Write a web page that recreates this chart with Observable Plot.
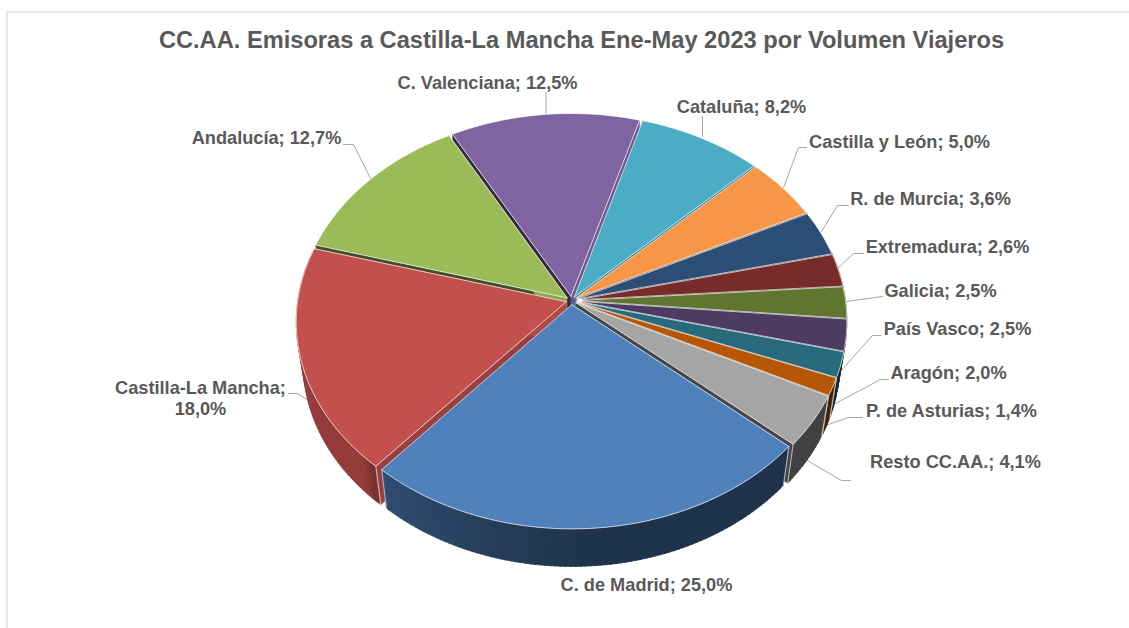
<!DOCTYPE html>
<html><head><meta charset="utf-8">
<script src="https://cdn.jsdelivr.net/npm/d3@7"></script>
<script src="https://cdn.jsdelivr.net/npm/@observablehq/plot@0.6"></script>
<style>html,body{margin:0;padding:0;background:#fff;overflow:hidden}svg{display:block}</style>
</head><body><div id="chart"></div>
<script>
const chartTitle = "CC.AA. Emisoras a Castilla-La Mancha Ene-May 2023 por Volumen Viajeros";
const regions = ["C. de Madrid","Castilla-La Mancha","Andalucía","C. Valenciana","Cataluña","Castilla y León","R. de Murcia","Extremadura","Galicia","País Vasco","Aragón","P. de Asturias","Resto CC.AA."];
const shares = [25.0,18.0,12.7,12.5,8.2,5.0,3.6,2.6,2.5,2.5,2.0,1.4,4.1];
const sliceColors = ["#4F81BD","#C4504E","#9BBB59","#8064A2","#4BACC6","#F79646","#2C4D75","#772C2A","#5F7530","#4D3B62","#276A7C","#B65708","#A5A5A5"];

// 3D pie view
const W=1129,H=628,cx=571,cy=300,R=268.5,Ry=201.5,persp=0.0976,depth=41,shrink=0.975,explode=5.5/268.5,startDeg=131;
function project(X,Y,low){
  const f=1/(1+persp*Y);
  let px=R*X*f, py=-Ry*Y*f;
  if(low){px*=shrink;py=py*0.985+depth;}
  return {x:cx+px,y:cy+py};
}
const total=d3.sum(shares);
let acc=startDeg*Math.PI/180;
const slices=regions.map((name,i)=>{
  const a0=acc,a1=acc+shares[i]/total*2*Math.PI;acc=a1;
  const m=(a0+a1)/2;
  return {name,i,share:shares[i],color:sliceColors[i],a0,a1,m,ox:explode*Math.sin(m),oy:explode*Math.cos(m)};
});
function rimAngles(s,step=1*Math.PI/180){
  const n=Math.max(2,Math.ceil((s.a1-s.a0)/step));
  return d3.range(n+1).map(k=>s.a0+(s.a1-s.a0)*k/n);
}
const pt=(s,a,r,low)=>project(s.ox+r*Math.sin(a),s.oy+r*Math.cos(a),low);
const toDeg=a=>((a*180/Math.PI)%360+360)%360;

const wallShade=d3.scaleLinear([175,222,225,270],[2.6,1.4,0.8,0.8]).clamp(true);
const cutShade=d3.scaleLinear([100,140,190],[0.3,0.8,2.4]).clamp(true);
function sliceMarks(s){
  const walls=[];
  const push=(id,c,ps)=>ps.forEach(p=>walls.push({id,c,x:p.x,y:p.y}));
  // cut faces, shaded by the direction they face
  [[s.a0,s.a0-Math.PI/2],[s.a1,s.a1+Math.PI/2]].forEach(([a,n],j)=>{
    push("c"+j,d3.rgb(s.color).darker(cutShade(toDeg(n)))+"",[pt(s,a,0,false),pt(s,a,1,false),pt(s,a,1,true),pt(s,a,0,true)]);
  });
  const as=rimAngles(s);
  as.slice(1).forEach((a,k)=>{
    const b=as[k];
    if(Math.cos((a+b)/2)>0.25) return; // hidden back wall
    const mid=(a+b)/2;
    const c=d3.rgb(s.color).darker(wallShade(toDeg(mid)))+"";
    const over=a+(a<s.a1-1e-6?0.6*Math.PI/180:0);
    push("w"+k,c,[pt(s,b,1,false),pt(s,over,1,false),pt(s,over,1,true),pt(s,b,1,true)]);
  });
  const top=[pt(s,s.a0,0,false),...as.map(a=>pt(s,a,1,false)),pt(s,s.a0,0,false)];
  const edges=[s.a0,s.a1].filter(a=>Math.cos(a)<-0.3).flatMap((a,j)=>
    [pt(s,a,1,false),pt(s,a,1,true)].map(p=>({id:j,x:p.x,y:p.y})));
  return [
    Plot.line(walls,{x:"x",y:"y",z:"id",fill:"c",stroke:"c",strokeWidth:0.5}),
    Plot.line(edges,{x:"x",y:"y",z:"id",stroke:"#fff",strokeOpacity:0.55,strokeWidth:1.2}),
    Plot.line(top,{x:"x",y:"y",fill:s.color,stroke:"#fff",strokeOpacity:0.7,strokeWidth:1,strokeLinejoin:"round"})
  ];
}
const order=[...slices].sort((a,b)=>Math.cos(b.m)-Math.cos(a.m));

// hand-placed data labels, as in the source chart: text centre and leader path in px
const layout=new Map([
 ["C. de Madrid",{at:[646,585]}],
 ["Castilla-La Mancha",{at:[200,398],rim:[308,400],elbow:[[297,393],[288,393]],two:true}],
 ["Andalucía",{at:[266,138],rim:[370,178],elbow:[[353,144],[343,144]]}],
 ["C. Valenciana",{at:[487,83],rim:[545.5,113],elbow:[[545.5,92]]}],
 ["Cataluña",{at:[741,107],rim:[702,136],elbow:[[702,116]]}],
 ["Castilla y León",{at:[899,142],rim:[783,187],elbow:[[798,147],[806,147]]}],
 ["R. de Murcia",{at:[930,199],rim:[821,231],elbow:[[837,205],[848,205]]}],
 ["Extremadura",{at:[947,247],rim:[837,268],elbow:[[853,253],[863,253]]}],
 ["Galicia",{at:[940,291],rim:[846,301],elbow:[[882,296]]}],
 ["País Vasco",{at:[957,329],rim:[838,373],elbow:[[872,335],[880,335]]}],
 ["Aragón",{at:[948,373],rim:[833,404],elbow:[[880,379],[888,379]]}],
 ["P. de Asturias",{at:[951,411],rim:[825,425],elbow:[[848,417],[862,417]]}],
 ["Resto CC.AA.",{at:[955,462],rim:[807,460],elbow:[[841,480],[850,480]]}]
]);
const fmt=v=>v.toFixed(1).replace(".",",")+"%";
const labelFont={fontFamily:"'Liberation Sans',Arial,sans-serif",fontWeight:700,fill:"#595959"};
const labelRows=slices.flatMap(s=>{
  const L=layout.get(s.name);
  return L.two
    ? [{x:L.at[0],y:L.at[1]-10.5,t:s.name+";"},{x:L.at[0],y:L.at[1]+10.5,t:fmt(s.share)}]
    : [{x:L.at[0],y:L.at[1],t:s.name+"; "+fmt(s.share)}];
});
const leaders=slices.flatMap(s=>{
  const L=layout.get(s.name);
  if(!L.rim) return [];
  return [L.rim,...L.elbow].map(p=>({id:s.name,x:p[0],y:p[1]}));
});
const frame=[{x1:7,y1:12,x2:1140,y2:640}];
const glint=pt(slices[8],slices[8].m,0.012,false);

const plot=Plot.plot({
  width:W,height:H,margin:0,
  x:{domain:[0,W],range:[0,W],axis:null},
  y:{domain:[0,H],range:[0,H],axis:null},
  marks:[
    Plot.rect(frame,{x1:"x1",y1:"y1",x2:"x2",y2:"y2",fill:"#fff",stroke:"#E2E2E2",strokeWidth:1.6}),
    Plot.line(leaders,{x:"x",y:"y",z:"id",stroke:"#A6A6A6",strokeWidth:1}),
    order.map(sliceMarks),
    Plot.dot([glint],{x:"x",y:"y",r:2.2,fill:"#fff",fillOpacity:0.85}),
    Plot.text(labelRows,{x:"x",y:"y",text:"t",fontSize:18.2,...labelFont}),
    Plot.text([chartTitle],{x:[581],y:[39.5],text:d=>d,fontSize:23.65,...labelFont})
  ]
});
document.getElementById("chart").append(plot);
</script></body></html>
